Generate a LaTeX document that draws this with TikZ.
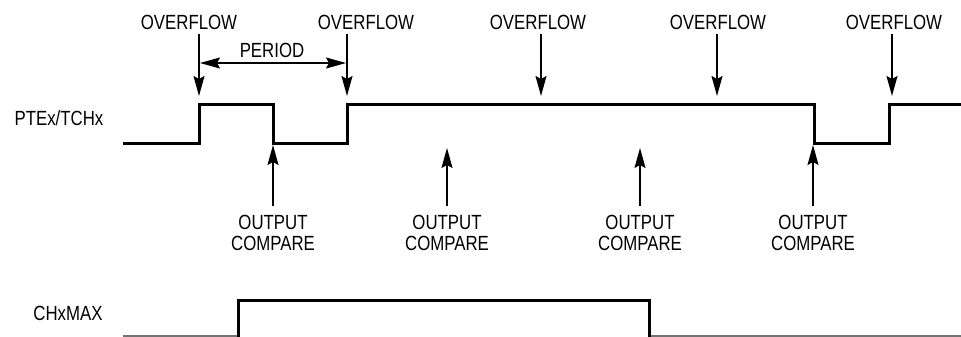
\documentclass[tikz,border=0pt]{standalone}
\usepackage{fontspec}
\setmainfont{Liberation Sans}[FakeStretch=0.82]
\usetikzlibrary{arrows.meta}
\begin{document}
\begin{tikzpicture}[x=1pt,y=-1pt,
  lbl/.style={font=\fontsize{20.5}{21}\selectfont, inner sep=0pt, align=center},
  sig/.style={line width=3pt, line join=miter},
  base/.style={line width=1.2pt, draw=black!55},
  ev/.style={line width=1.5pt, -{Stealth[length=20pt,width=11pt,inset=3pt]}},
  evv/.style={line width=1.5pt, {Stealth[length=20pt,width=11pt,inset=3pt]}-{Stealth[length=20pt,width=11pt,inset=3pt]}},
]
\useasboundingbox (0,0) rectangle (961,337);

% signal labels
\node[lbl] (ptex) at (59,118) {PTEx/TCHx};
\node[lbl] (chx) at (68,313) {CHxMAX};

% PTEx/TCHx waveform
\draw[sig] (123,143) -- (199,143) -- (199,104) -- (273,104) -- (273,143) -- (347,143)
  -- (347,104) -- (814,104) -- (814,143) -- (889,143) -- (889,104) -- (961,104);

% CHxMAX waveform
\draw[base] (123,336) -- (238,336);
\draw[base] (649,336) -- (961,336);
\draw[sig] (238,337) -- (238,300) -- (649,300) -- (649,337);

% overflow labels and arrows
\foreach \i/\lx/\ax in {1/189/199, 2/366/347, 3/538/541, 4/718/717, 5/894/892}{
  \node[lbl] (ov\i) at (\lx,22) {OVERFLOW};
  \coordinate (ovs\i) at (\ax,34);
  \coordinate (ove\i) at (\ax,96);
  \draw[ev] (ovs\i) -- (ove\i);
}

% period
\node[lbl] (per) at (272,50) {PERIOD};
\coordinate (pa) at (200,63);
\coordinate (pb) at (346,63);
\draw[evv] (pa) -- (pb);

% output compare labels and arrows
\foreach \i/\x/\t in {1/273/145, 2/447/148, 3/640/148, 4/813/145}{
  \node[lbl, anchor=north] (oc\i) at (\x,215) {OUTPUT\\COMPARE};
  \coordinate (ocs\i) at (\x,206);
  \coordinate (oce\i) at (\x,\t);
  \draw[ev] (ocs\i) -- (oce\i);
}
\end{tikzpicture}
\end{document}
